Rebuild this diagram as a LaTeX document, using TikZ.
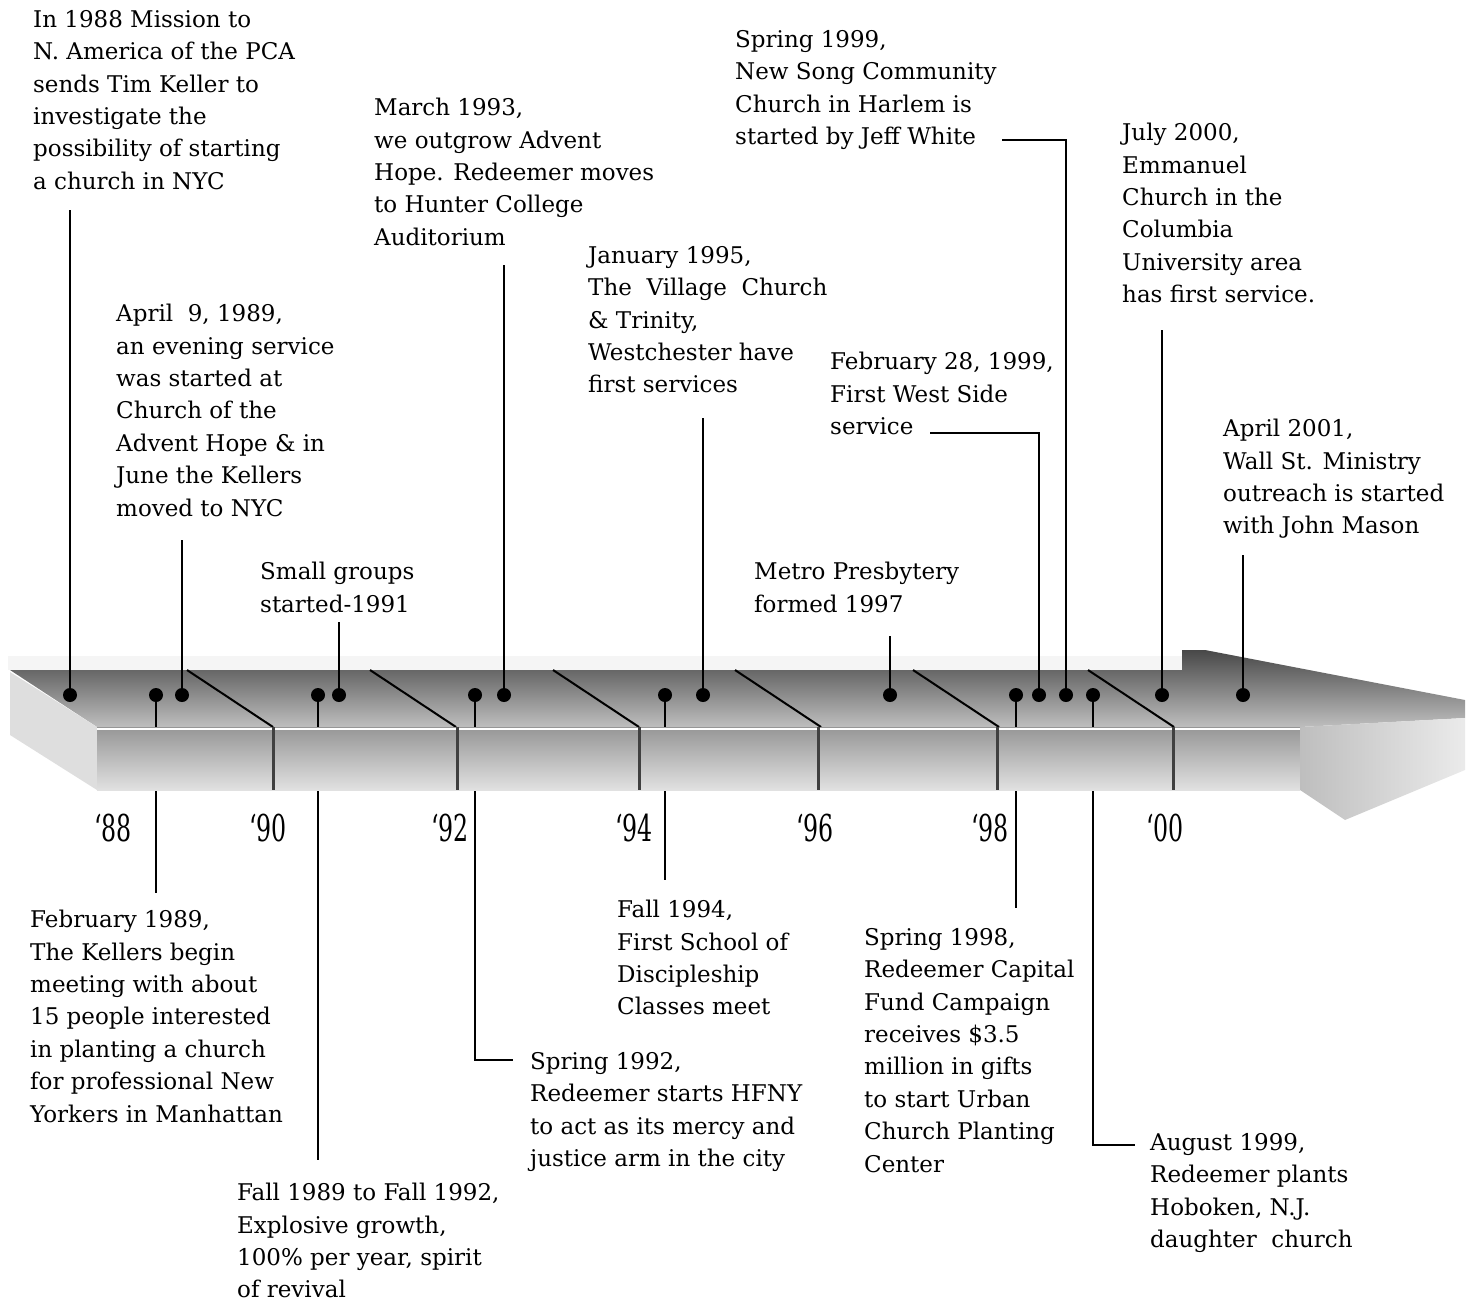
\documentclass[tikz,border=0pt]{standalone}
\usepackage{fontspec}
\setmainfont{DejaVu Serif}
\usetikzlibrary{calc}
\definecolor{bar-top}{RGB}{72,72,72}
\definecolor{bar-mid}{RGB}{140,140,140}
\definecolor{bar-low}{RGB}{190,190,190}
\definecolor{bar-face}{RGB}{150,150,150}
\definecolor{bar-pale}{RGB}{225,225,225}

\begin{document}
\begin{tikzpicture}[x=1pt, y=-1pt,
  note/.style={anchor=north west, align=left, inner sep=0pt, font={\fontsize{23}{32.4}\selectfont}},
  year/.style={inner sep=0pt, font={\fontsize{37}{37}\selectfont}},
  dot/.style={circle, fill=black, inner sep=0pt, minimum size=14pt},
  lead/.style={line width=1.8pt},
  slant/.style={line width=2pt},
  post/.style={line width=3pt, black!75},
]
  \useasboundingbox (0,0) rectangle (1471,1303);

  % Bar, top face
  \fill[black!4] (8,656) rectangle (1182,670);
  \shade[top color=bar-top, middle color=bar-mid, bottom color=bar-low]
    (10,670) -- (1182,670) -- (1182,650) -- (1205,650) -- (1465,700)
    -- (1465,718) -- (1300,727) -- (97,727) -- cycle;
  \foreach \x in {187,370,553,735,913,1088}
    \draw[slant] (\x,670) -- (\x+86,727);

  % Events on the bar
  \node[dot] (p88) at (70,695) {};
  \node[dot] (p89a) at (156,695) {};
  \node[dot] (p89b) at (182,695) {};
  \node[dot] (p89c) at (318,695) {};
  \node[dot] (p91) at (339,695) {};
  \node[dot] (p92) at (475,695) {};
  \node[dot] (p93) at (504,695) {};
  \node[dot] (p94) at (665,695) {};
  \node[dot] (p95) at (703,695) {};
  \node[dot] (p97) at (890,695) {};
  \node[dot] (p98) at (1016,695) {};
  \node[dot] (p99a) at (1039,695) {};
  \node[dot] (p99b) at (1066,695) {};
  \node[dot] (p99c) at (1093,695) {};
  \node[dot] (p00) at (1162,695) {};
  \node[dot] (p01) at (1243,695) {};

  % Notes above
  \node[note] (n88) at (33,10) {In 1988 Mission to\\N. America of the PCA\\sends Tim Keller to\\investigate the\\possibility of starting\\a church in NYC};
  \node[note] (n89b) at (116,304) {April\ \ 9, 1989,\\an evening service\\was started at\\Church of the\\Advent Hope \& in\\June the Kellers\\moved to NYC};
  \node[note] (n91) at (260,562) {Small groups\\started-1991};
  \node[note] (n93) at (374,98) {March 1993,\\we outgrow Advent\\Hope. Redeemer moves\\to Hunter College\\Auditorium};
  \node[note] (n95) at (588,246) {January 1995,\\The\ \ Village\ \ Church\\\& Trinity,\\Westchester have\\first services};
  \node[note] (n99b) at (735,30) {Spring 1999,\\New Song Community\\Church in Harlem is\\started by Jeff White};
  \node[note] (n00) at (1122,123) {July 2000,\\Emmanuel\\Church in the\\Columbia\\University area\\has first service.};
  \node[note] (n99a) at (830,352) {February 28, 1999,\\First West Side\\service};
  \node[note] (n01) at (1223,419) {April 2001,\\Wall St. Ministry\\outreach is started\\with John Mason};
  \node[note] (n97) at (754,562) {Metro Presbytery\\formed 1997};

  % Notes below
  \node[note] (n89a) at (30,910) {February 1989,\\The Kellers begin\\meeting with about\\15 people interested\\in planting a church\\for professional New\\Yorkers in Manhattan};
  \node[note] (n89c) at (237,1183) {Fall 1989 to Fall 1992,\\Explosive growth,\\100\% per year, spirit\\of revival};
  \node[note] (n92) at (530,1052) {Spring 1992,\\Redeemer starts HFNY\\to act as its mercy and\\justice arm in the city};
  \node[note] (n94) at (617,900) {Fall 1994,\\First School of\\Discipleship\\Classes meet};
  \node[note] (n98) at (864,928) {Spring 1998,\\Redeemer Capital\\Fund Campaign\\receives \$3.5\\million in gifts\\to start Urban\\Church Planting\\Center};
  \node[note] (n99c) at (1150,1133) {August 1999,\\Redeemer plants\\Hoboken, N.J.\\daughter\ \ church};

  % Line ends
  \coordinate (e88) at (70,210);
  \coordinate (e89b) at (182,540);
  \coordinate (e91) at (339,622);
  \coordinate (e93) at (504,265);
  \coordinate (e95) at (703,418);
  \coordinate (e97) at (890,636);
  \coordinate (e99a) at (930,433);
  \coordinate (e99b) at (1002,140);
  \coordinate (e00) at (1162,330);
  \coordinate (e01) at (1243,555);
  \coordinate (e89a) at (156,893);
  \coordinate (e89c) at (318,1160);
  \coordinate (e92) at (513,1060);
  \coordinate (e94) at (665,880);
  \coordinate (e98) at (1016,908);
  \coordinate (e99c) at (1135,1145);

  \draw[lead] (p88) -- (e88);
  \draw[lead] (p89b) -- (e89b);
  \draw[lead] (p91) -- (e91);
  \draw[lead] (p93) -- (e93);
  \draw[lead] (p95) -- (e95);
  \draw[lead] (p97) -- (e97);
  \draw[lead] (p99a) |- (e99a);
  \draw[lead] (p99b) |- (e99b);
  \draw[lead] (p00) -- (e00);
  \draw[lead] (p01) -- (e01);

  \draw[lead] (p89a) -- (e89a);
  \draw[lead] (p89c) -- (e89c);
  \draw[lead] (p92) |- (e92);
  \draw[lead] (p94) -- (e94);
  \draw[lead] (p98) -- (e98);
  \draw[lead] (p99c) |- (e99c);

  % Bar, front and ends
  \fill[black!13] (10,672) -- (97,727) -- (97,790) -- (10,735) -- cycle;
  \shade[top color=bar-face, middle color=bar-low, bottom color=bar-pale]
    (97,727) rectangle (1300,790);
  \draw[white, line width=1.5pt] (97,729) -- (1300,729);
  \shade[left color=bar-low, right color=black!8]
    (1300,727) -- (1465,718) -- (1465,770) -- (1345,820) -- (1300,790) -- cycle;
  \foreach \x in {273,457,639,818,997,1173}
    \draw[post] (\x,727) -- (\x,790);

  % Years
  \node[year] (y88) at (113,828) {\scalebox{0.64}[1]{‘88}};
  \node[year] (y90) at (268,828) {\scalebox{0.64}[1]{‘90}};
  \node[year] (y92) at (450,828) {\scalebox{0.64}[1]{‘92}};
  \node[year] (y94) at (634,828) {\scalebox{0.64}[1]{‘94}};
  \node[year] (y96) at (815,828) {\scalebox{0.64}[1]{‘96}};
  \node[year] (y98) at (990,828) {\scalebox{0.64}[1]{‘98}};
  \node[year] (y00) at (1165,828) {\scalebox{0.64}[1]{‘00}};
\end{tikzpicture}
\end{document}
